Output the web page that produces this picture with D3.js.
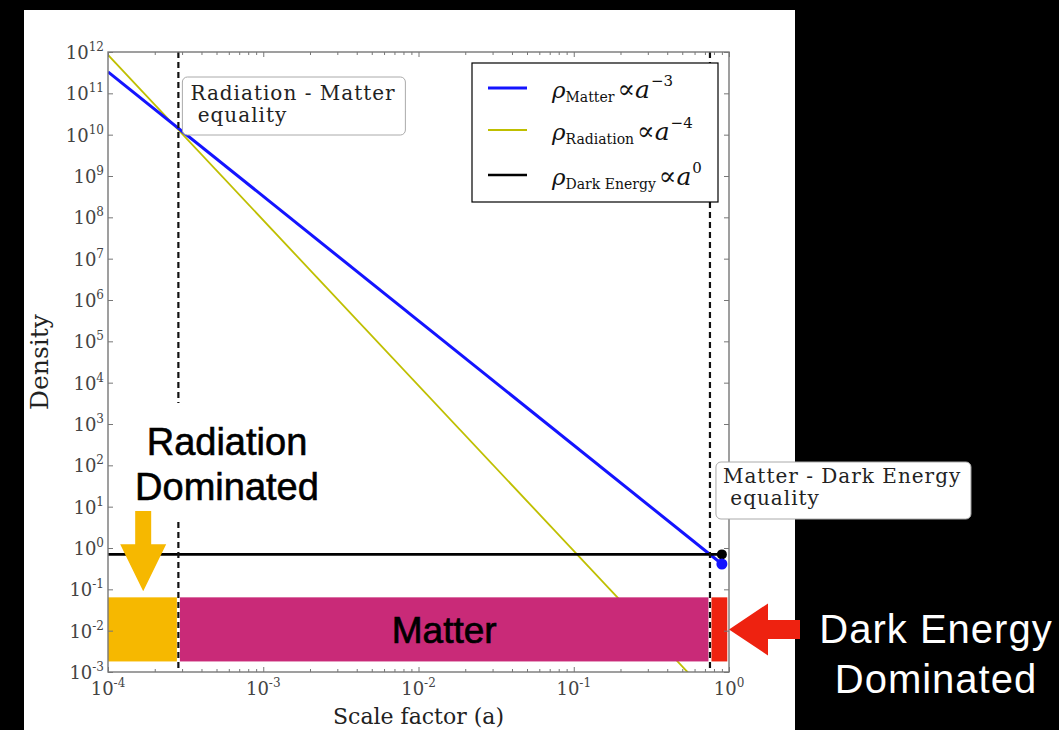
<!DOCTYPE html>
<html>
<head>
<meta charset="utf-8">
<script src="https://cdn.jsdelivr.net/npm/d3@7/dist/d3.min.js"></script>
<style>
  body { margin: 0; background: #000; }
  svg { display: block; }
  .serif { font-family: 'DejaVu Serif', serif; }
  .sans { font-family: 'Liberation Sans', Arial, sans-serif; }
</style>
</head>
<body>
<div id="chart"></div>
<script>
// values
const matterA = [1e-4, 0.9];
const matterRho = [3.3e11, 0.41];
const radiationA = [1e-4, 0.9];
const radiationRho = [8.5e11, 1.3e-4];
const darkEnergyA = [1e-4, 0.9];
const darkEnergyRho = [0.7, 0.7];

const todayA = [0.9, 0.9];
const todayRho = [0.7, 0.41];

const equalityA = [2.84e-4, 0.754];
const equalityLabels = [['Radiation - Matter', ' equality'], ['Matter - Dark Energy', ' equality']];

const eraNames = ['Radiation', 'Matter', 'Dark Energy'];
const eraStart = [1e-4, 2.84e-4, 0.754];
const eraEnd = [2.84e-4, 0.754, 0.975];
const eraRho = [1.8e-3, 0.064];

const legendNames = ['Matter', 'Radiation', 'Dark Energy'];
const legendPowers = ['\u22123', '\u22124', '0'];

const xTickValues = [1e-4, 1e-3, 1e-2, 1e-1, 1];
const xTickExps = ['-4', '-3', '-2', '-1', '0'];
const yTickExps = [-3, -2, -1, 0, 1, 2, 3, 4, 5, 6, 7, 8, 9, 10, 11, 12];

const width = 1059, height = 730;
const plot = {left: 108, right: 729, top: 52, bottom: 672};
const colors = {matter: '#1414ff', radiation: '#bfbf00', darkEnergy: '#000',
  eras: ['#f6b800', '#c92a78', '#ee2210']};

const svg = d3.select('#chart').append('svg')
  .attr('width', width)
  .attr('height', height);

svg.append('rect').attr('width', width).attr('height', height).attr('fill', '#000');
svg.append('rect').attr('x', 24).attr('y', 10).attr('width', 771).attr('height', 720).attr('fill', '#fff');

const x = d3.scaleLog().domain([1e-4, 1]).range([plot.left, plot.right]);
const y = d3.scaleLog().domain([1e-3, 1e12]).range([plot.bottom, plot.top]);

svg.append('clipPath').attr('id', 'plot-clip')
  .append('rect')
  .attr('x', plot.left).attr('y', plot.top)
  .attr('width', plot.right - plot.left).attr('height', plot.bottom - plot.top);

const inner = svg.append('g').attr('clip-path', 'url(#plot-clip)');

// curves
const line = d3.line().x(d => x(d[0])).y(d => y(d[1]));
const series = [
  {a: radiationA, rho: radiationRho, color: colors.radiation, w: 1.8},
  {a: matterA, rho: matterRho, color: colors.matter, w: 3},
  {a: darkEnergyA, rho: darkEnergyRho, color: colors.darkEnergy, w: 2.6}
];
series.forEach(s => {
  inner.append('path')
    .attr('d', line(d3.zip(s.a, s.rho)))
    .attr('fill', 'none')
    .attr('stroke', s.color)
    .attr('stroke-width', s.w);
});

// era bars
const gap = 1.5;
inner.selectAll('.era')
  .data(eraNames)
  .enter().append('rect')
  .attr('class', 'era')
  .attr('x', (d, i) => x(eraStart[i]) + (i > 0 ? gap : 0))
  .attr('width', (d, i) => x(eraEnd[i]) - x(eraStart[i]) - (i > 0 ? gap : 0) - (i < 2 ? gap : 0))
  .attr('y', y(eraRho[1]))
  .attr('height', y(eraRho[0]) - y(eraRho[1]))
  .attr('fill', (d, i) => colors.eras[i]);

// equality dashed lines
inner.selectAll('.eq')
  .data(equalityA)
  .enter().append('line')
  .attr('x1', d => x(d)).attr('x2', d => x(d))
  .attr('y1', plot.top).attr('y2', plot.bottom)
  .attr('stroke', '#111')
  .attr('stroke-width', 2.2)
  .attr('stroke-dasharray', '6,4');

// today markers
svg.selectAll('.today')
  .data(todayA)
  .enter().append('circle')
  .attr('cx', d => x(d))
  .attr('cy', (d, i) => y(todayRho[i]))
  .attr('r', (d, i) => i === 0 ? 5 : 5.5)
  .attr('fill', (d, i) => i === 0 ? '#000' : colors.matter);

// axes frame + ticks
const tickColor = '#777';
const majorY = yTickExps.map(e => Math.pow(10, e));
const minorX = x.ticks().filter(v => xTickValues.indexOf(v) < 0);

function styleAxis(g) {
  g.select('.domain').remove();
  g.selectAll('line').attr('stroke', tickColor).attr('stroke-width', 1);
}
svg.append('g').attr('transform', `translate(0,${plot.bottom})`)
  .call(d3.axisBottom(x).tickValues(xTickValues).tickSize(-5).tickFormat('')).call(styleAxis);
svg.append('g').attr('transform', `translate(0,${plot.bottom})`)
  .call(d3.axisBottom(x).tickValues(minorX).tickSize(-3).tickFormat('')).call(styleAxis);
svg.append('g').attr('transform', `translate(0,${plot.top})`)
  .call(d3.axisTop(x).tickValues(xTickValues).tickSize(-5).tickFormat('')).call(styleAxis);
svg.append('g').attr('transform', `translate(0,${plot.top})`)
  .call(d3.axisTop(x).tickValues(minorX).tickSize(-3).tickFormat('')).call(styleAxis);
svg.append('g').attr('transform', `translate(${plot.left},0)`)
  .call(d3.axisLeft(y).tickValues(majorY).tickSize(-5).tickFormat('')).call(styleAxis);
svg.append('g').attr('transform', `translate(${plot.right},0)`)
  .call(d3.axisRight(y).tickValues(majorY).tickSize(-5).tickFormat('')).call(styleAxis);

svg.append('rect')
  .attr('x', plot.left).attr('y', plot.top)
  .attr('width', plot.right - plot.left).attr('height', plot.bottom - plot.top)
  .attr('fill', 'none')
  .attr('stroke', tickColor)
  .attr('stroke-width', 1.4);

// tick labels
const yLab = svg.append('g').attr('class', 'serif').attr('fill', '#444');
yTickExps.forEach(e => {
  const t = yLab.append('text')
    .attr('x', plot.left - 4)
    .attr('y', y(Math.pow(10, e)) + 7)
    .attr('text-anchor', 'end')
    .attr('font-size', 18);
  t.append('tspan').text('10');
  t.append('tspan').attr('dy', -8).attr('font-size', 12).text(e);
});
const xLab = svg.append('g').attr('class', 'serif').attr('fill', '#444');
xTickValues.forEach((v, i) => {
  const t = xLab.append('text')
    .attr('x', x(v))
    .attr('y', plot.bottom + 23)
    .attr('text-anchor', 'middle')
    .attr('font-size', 18);
  t.append('tspan').text('10');
  t.append('tspan').attr('dy', -8).attr('font-size', 12).text(xTickExps[i]);
});

svg.append('text')
  .attr('class', 'serif')
  .attr('transform', `translate(48,${(plot.top + plot.bottom) / 2}) rotate(-90)`)
  .attr('text-anchor', 'middle')
  .attr('font-size', 25)
  .attr('fill', '#222')
  .text('Density');

svg.append('text')
  .attr('class', 'serif')
  .attr('x', (plot.left + plot.right) / 2)
  .attr('y', 724)
  .attr('text-anchor', 'middle')
  .attr('font-size', 22)
  .attr('fill', '#222')
  .text('Scale factor (a)');

// equality annotation boxes
const boxes = [
  {left: x(equalityA[0]) + 4, top: 77, w: 223, h: 58, tx: 8, base: 23},
  {left: x(equalityA[1]) + 6, top: 462, w: 255, h: 57, tx: 7, base: 21}
];
boxes.forEach((b, i) => {
  svg.append('rect')
    .attr('x', b.left).attr('y', b.top)
    .attr('width', b.w).attr('height', b.h)
    .attr('rx', 5)
    .attr('fill', '#fff')
    .attr('stroke', '#aaa');
  svg.append('text')
    .attr('class', 'serif')
    .attr('font-size', 20)
    .attr('letter-spacing', 1)
    .attr('fill', '#222')
    .attr('xml:space', 'preserve')
    .selectAll('tspan')
    .data(equalityLabels[i])
    .enter().append('tspan')
    .attr('x', b.left + b.tx)
    .attr('y', (d, j) => b.top + b.base + j * 22)
    .text(d => d);
});

// legend
const legend = svg.append('g');
legend.append('rect')
  .attr('x', 472).attr('y', 63)
  .attr('width', 246).attr('height', 139)
  .attr('fill', '#fff')
  .attr('stroke', '#000')
  .attr('stroke-width', 1.2);
const legendY = [88, 130, 175];
const legendSeries = [series[1], series[0], series[2]];
legendNames.forEach((name, i) => {
  legend.append('line')
    .attr('x1', 488).attr('x2', 527)
    .attr('y1', legendY[i]).attr('y2', legendY[i])
    .attr('stroke', legendSeries[i].color)
    .attr('stroke-width', legendSeries[i].w);
  const t = legend.append('text')
    .attr('class', 'serif')
    .attr('x', 552)
    .attr('y', legendY[i] + 10)
    .attr('fill', '#111')
    .attr('font-size', 23);
  t.append('tspan').attr('font-style', 'italic').text('\u03c1');
  t.append('tspan').attr('dy', 4).attr('font-size', 14).text(name);
  t.append('tspan').attr('dy', -4).attr('dx', 3).attr('font-size', 26).text('\u221d');
  t.append('tspan').attr('font-style', 'italic').attr('font-size', 25).text('a');
  t.append('tspan').attr('dy', -12).attr('dx', 1).attr('font-size', 15).text(legendPowers[i]);
});

// overlay labels
const radCx = Math.sqrt(eraStart[0] * eraEnd[0]);
svg.append('rect')
  .attr('x', 126).attr('y', 403)
  .attr('width', 204).attr('height', 115)
  .attr('fill', '#fff');
svg.append('text')
  .attr('class', 'sans')
  .attr('text-anchor', 'middle')
  .attr('font-size', 38)
  .attr('fill', '#000')
  .attr('stroke', '#000')
  .attr('stroke-width', 0.6)
  .selectAll('tspan')
  .data(['Radiation', 'Dominated'])
  .enter().append('tspan')
  .attr('x', 227)
  .attr('y', (d, i) => 455 + i * 45)
  .text(d => d);

const barTop = y(eraRho[1]);
const barMid = y(Math.sqrt(eraRho[0] * eraRho[1]));

// orange arrow pointing down into the radiation bar
const ax = x(radCx);
const tipY = barTop - 6;
svg.append('path')
  .attr('d', d3.line()([
    [ax - 8, 511], [ax + 8, 511], [ax + 8, tipY - 47], [ax + 23, tipY - 47],
    [ax, tipY], [ax - 23, tipY - 47], [ax - 8, tipY - 47]
  ]) + 'Z')
  .attr('fill', colors.eras[0]);

// red arrow pointing left at the dark energy bar
const rx = plot.right;
svg.append('path')
  .attr('d', d3.line()([
    [rx, barMid], [rx + 39, barMid - 26], [rx + 39, barMid - 9.5], [rx + 71, barMid - 9.5],
    [rx + 71, barMid + 9.5], [rx + 39, barMid + 9.5], [rx + 39, barMid + 26]
  ]) + 'Z')
  .attr('fill', colors.eras[2]);

svg.append('text')
  .attr('class', 'sans')
  .attr('x', (x(eraStart[1]) + x(eraEnd[1])) / 2)
  .attr('y', barMid + 14)
  .attr('text-anchor', 'middle')
  .attr('font-size', 37)
  .attr('fill', '#000')
  .attr('stroke', '#000')
  .attr('stroke-width', 0.7)
  .text(eraNames[1]);

svg.append('text')
  .attr('class', 'sans')
  .attr('text-anchor', 'middle')
  .attr('font-size', 40)
  .attr('letter-spacing', 1)
  .attr('fill', '#fff')
  .selectAll('tspan')
  .data(['Dark Energy', 'Dominated'])
  .enter().append('tspan')
  .attr('x', 936)
  .attr('y', (d, i) => 643 + i * 50)
  .text(d => d);
</script>
</body>
</html>
